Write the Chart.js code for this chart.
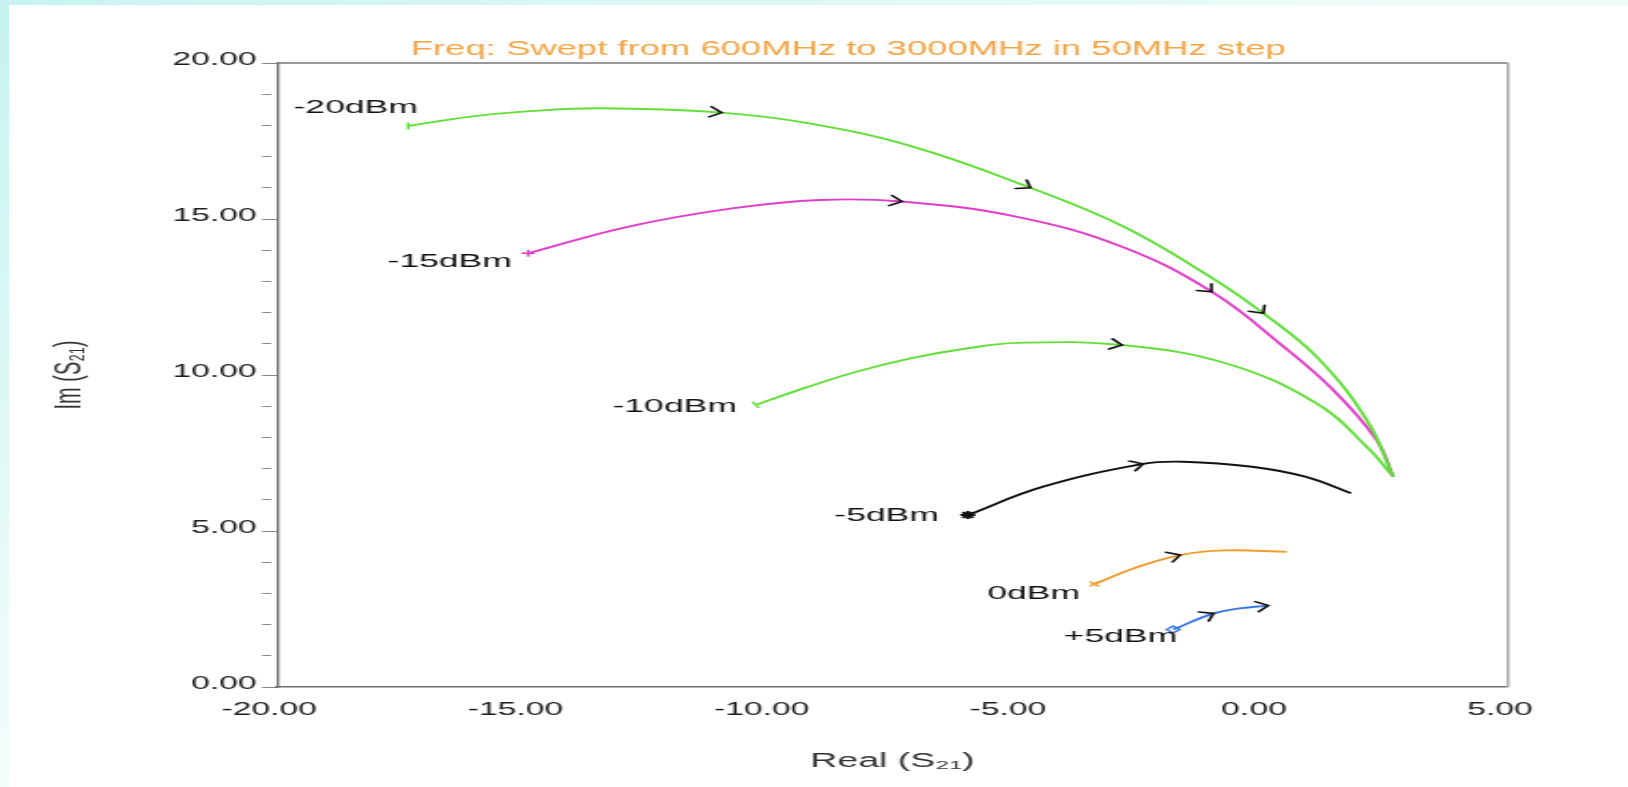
<!DOCTYPE html>
<html><head><meta charset="utf-8">
<script src="https://cdn.jsdelivr.net/npm/chart.js@4.4.1/dist/chart.umd.min.js"></script>
<style>
html,body{margin:0;padding:0;background:#fff;width:1628px;height:787px;overflow:hidden;}
#stripTop{position:absolute;left:0;top:0;width:1628px;height:5px;background:linear-gradient(90deg,#c9f4f0,#e2faf7 60%,#eefcfb);}
#stripLeft{position:absolute;left:0;top:0;width:9px;height:787px;background:linear-gradient(180deg,#c6f3ef,#dcf8f5 50%,#f4fdfc);}
#c{position:absolute;left:0;top:0;}
</style></head>
<body>
<div id="stripTop"></div><div id="stripLeft"></div>
<canvas id="c" width="871" height="787" style="width:1628px;height:787px;"></canvas>
<script>
// ---- data (Real / Imag of S21), frequency swept left to right ----
const seriesNames = ['-20dBm','-15dBm','-10dBm','-5dBm','0dBm','+5dBm'];
const re_m20 = [-17.34,-16.07,-15.00,-13.41,-10.97,-9.22,-7.09,-4.70,-2.80,-1.00,0.03,1.11,2.13,2.67];
const im_m20 = [17.98,18.28,18.44,18.55,18.41,18.07,17.32,16.00,14.75,13.10,11.98,10.59,8.56,6.74];
const re_m15 = [-14.90,-12.88,-10.76,-8.97,-7.31,-4.97,-2.84,-1.02,0.44,1.45,2.33,2.67];
const im_m15 = [13.90,14.75,15.34,15.61,15.56,15.07,14.11,12.67,10.91,9.52,7.92,6.74];
const re_m10 = [-10.28,-9.22,-8.20,-7.09,-6.00,-4.97,-2.84,-0.72,1.11,2.13,2.67];
const im_m10 = [9.04,9.62,10.12,10.55,10.85,11.03,10.96,10.37,9.09,7.70,6.74];
const re_m5 = [-5.97,-4.44,-2.41,-1.60,-0.20,0.88,1.81];
const im_m5 = [5.51,6.42,7.15,7.22,7.06,6.74,6.21];
const re_0 = [-3.40,-2.61,-1.66,-0.75,0.51];
const im_0 = [3.30,3.80,4.23,4.38,4.33];
const re_p5 = [-1.80,-0.98,-0.45,0.13];
const im_p5 = [1.84,2.36,2.52,2.61];
// indices of the points that carry a direction arrow
const arrows_m20 = [4,7,10];
const arrows_m15 = [4,7];
const arrows_m10 = [6];
const arrows_m5 = [2];
const arrows_0 = [2];
const arrows_p5 = [1,3];
// series label anchors (data units, right end of text)
const labelRe = [-17.14,-15.23,-10.66,-6.56,-3.69,-1.72];
const labelIm = [18.56,13.62,8.97,5.48,2.98,1.60];
// axis ticks
const xTickValues = [-20,-15,-10,-5,0,5];
const yLabelValues = [0,5,10,15,20];
const chartTitle = 'Freq: Swept from 600MHz to 3000MHz in 50MHz step';

const seriesRe = [re_m20,re_m15,re_m10,re_m5,re_0,re_p5];
const seriesIm = [im_m20,im_m15,im_m10,im_m5,im_0,im_p5];
const seriesArrows = [arrows_m20,arrows_m15,arrows_m10,arrows_m5,arrows_0,arrows_p5];
const colors = ['#62de38','#e03ec8','#62de38','#111111','#f39a2e','#3c78e0'];
const startStyles = ['line','cross','line','star','crossRot','rectRot'];
const startRot = [90,0,60,0,0,0];

Chart.defaults.font.family = '"Liberation Sans", Arial, sans-serif';

const datasets = seriesNames.map((n,i)=>({
  label: n,
  data: seriesRe[i].map((x,j)=>({x:x, y:seriesIm[i][j]})),
  showLine: true,
  borderColor: colors[i],
  backgroundColor: 'rgba(0,0,0,0)',
  borderWidth: 1.9,
  tension: 0.4,
  pointStyle: startStyles[i],
  pointRotation: startRot[i],
  pointBorderColor: colors[i],
  pointBorderWidth: i===3 ? 2 : 1.4,
  pointRadius: ctx => ctx.dataIndex === 0 ? (i===3 ? 4 : 3.5) : 0,
  pointHoverRadius: 0
}));

const decor = {
  id: 'decor',
  beforeDatasetsDraw(chart){
    const {ctx, chartArea:a} = chart;
    ctx.save();
    ctx.strokeStyle = '#777';
    ctx.lineWidth = 1.6;
    ctx.beginPath(); ctx.moveTo(a.left, a.top); ctx.lineTo(a.right, a.top); ctx.stroke();
    ctx.strokeStyle = '#aaa';
    ctx.lineWidth = 1.5;
    ctx.beginPath(); ctx.moveTo(a.right, a.top); ctx.lineTo(a.right, a.bottom); ctx.stroke();
    ctx.restore();
  },
  afterDatasetsDraw(chart){
    const {ctx, chartArea:a, scales} = chart;
    ctx.save();
    // arrows
    ctx.strokeStyle = '#111';
    ctx.lineWidth = 1.6;
    ctx.lineCap = 'round';
    ctx.lineJoin = 'miter';
    seriesArrows.forEach((list, di)=>{
      const pts = chart.getDatasetMeta(di).data;
      list.forEach(k=>{
        const p = pts[k];
        const p0 = pts[Math.max(k-1,0)];
        const p1 = pts[Math.min(k+1, pts.length-1)];
        const ang = Math.atan2(p1.y - p0.y, p1.x - p0.x);
        const L = 8, w = 0.7;
        ctx.beginPath();
        ctx.moveTo(p.x - L*Math.cos(ang - w), p.y - L*Math.sin(ang - w));
        ctx.lineTo(p.x, p.y);
        ctx.lineTo(p.x - L*Math.cos(ang + w), p.y - L*Math.sin(ang + w));
        ctx.stroke();
      });
    });
    // series labels
    ctx.fillStyle = '#111';
    ctx.font = '19px "Liberation Sans", Arial, sans-serif';
    ctx.textAlign = 'right';
    ctx.textBaseline = 'middle';
    seriesNames.forEach((n,i)=>{
      ctx.fillText(n, scales.x.getPixelForValue(labelRe[i]), scales.y.getPixelForValue(labelIm[i]));
    });
    // title
    ctx.fillStyle = '#f2a444';
    ctx.font = '19.5px "Liberation Sans", Arial, sans-serif';
    ctx.textAlign = 'center';
    ctx.fillText(chartTitle, a.left + 0.464*(a.right - a.left), a.top - 13);
    ctx.restore();
  }
};

new Chart(document.getElementById('c'), {
  type: 'scatter',
  data: { datasets },
  plugins: [decor],
  options: {
    responsive: false,
    animation: false,
    devicePixelRatio: 1,
    layout: { padding: { left: 0, right: 64.2, top: 63, bottom: 0 } },
    plugins: { legend: { display: false }, tooltip: { enabled: false } },
    scales: {
      x: {
        type: 'linear', min: -20, max: 5,
        afterBuildTicks: s => { s.ticks = xTickValues.map(v => ({value: v})); },
        ticks: { callback: v => Number(v).toFixed(2), font: { size: 18 }, color: '#1a1a1a', padding: 4, labelOffset: -4.2, autoSkip: false, maxRotation: 0 },
        grid: { display: false },
        border: { display: true, color: '#707070', width: 1.6 },
        title: { display: true, text: 'Real (S₂₁)', font: { size: 20 }, color: '#333', padding: { top: 0, bottom: 14 } },
        afterFit: s => { s.height = 100; }
      },
      y: {
        type: 'linear', min: 0, max: 20,
        ticks: { stepSize: 1, autoSkip: false, callback: v => yLabelValues.includes(v) ? Number(v).toFixed(2) : '', font: { size: 18 }, color: '#1a1a1a', padding: 3, labelOffset: -3 },
        grid: { drawOnChartArea: false, drawTicks: true, tickLength: 8, tickColor: '#888', tickWidth: 1,
                tickBorderDash: ctx => yLabelValues.includes(ctx.tick && ctx.tick.value) ? [] : [5, 100] },
        border: { display: true, color: '#707070', width: 1.4 },
        title: { display: true, text: 'Im (S₂₁)', font: { size: 20 }, color: '#333', padding: { top: 25.5, bottom: 0 } },
        afterFit: s => { s.width = 148.2; }
      }
    }
  }
});
</script>
</body></html>
